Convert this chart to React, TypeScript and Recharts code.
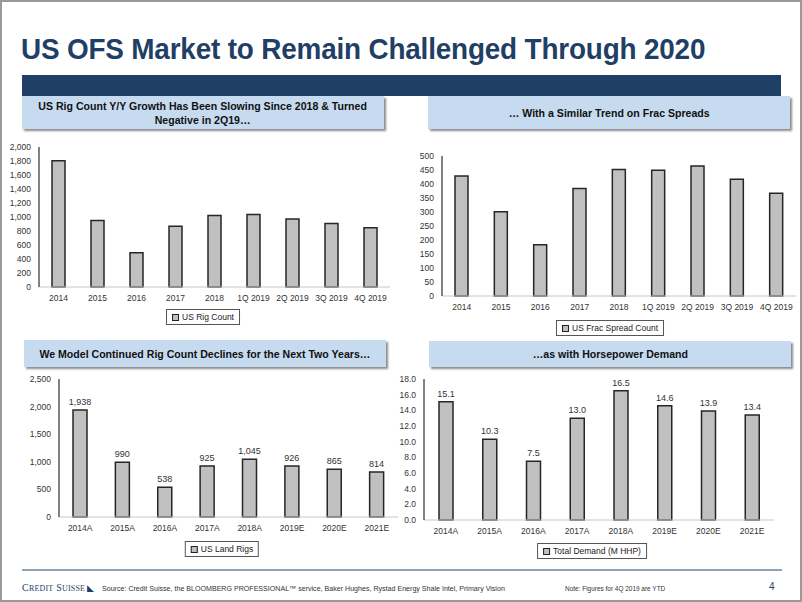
import React from 'react';
import { BarChart, Bar, XAxis, YAxis, Legend, LabelList } from 'recharts';

// top-left: US rig count
const rigCategories = ['2014', '2015', '2016', '2017', '2018', '1Q 2019', '2Q 2019', '3Q 2019', '4Q 2019'];
const rigCounts = [1802, 949, 491, 867, 1022, 1036, 973, 906, 848];
const rigTicks = [0, 200, 400, 600, 800, 1000, 1200, 1400, 1600, 1800, 2000];

// top-right: frac spreads
const fracCategories = ['2014', '2015', '2016', '2017', '2018', '1Q 2019', '2Q 2019', '3Q 2019', '4Q 2019'];
const fracSpreads = [429, 301, 183, 384, 452, 449, 464, 417, 367];
const fracTicks = [0, 50, 100, 150, 200, 250, 300, 350, 400, 450, 500];

// bottom-left: land rigs forecast
const landCategories = ['2014A', '2015A', '2016A', '2017A', '2018A', '2019E', '2020E', '2021E'];
const landRigs = [1938, 990, 538, 925, 1045, 926, 865, 814];
const landTicks = [0, 500, 1000, 1500, 2000, 2500];

// bottom-right: horsepower demand
const hhpCategories = ['2014A', '2015A', '2016A', '2017A', '2018A', '2019E', '2020E', '2021E'];
const hhpDemand = [15.1, 10.3, 7.5, 13.0, 16.5, 14.6, 13.9, 13.4];
const hhpTicks = [0, 2, 4, 6, 8, 10, 12, 14, 16, 18];

const FONT = '"Liberation Sans", Arial, sans-serif';
const NAVY = '#1f3f66';
const BAR_FILL = '#c0c0c0';
const BAR_STROKE = '#262626';

const tickStyle = { fill: '#333', fontSize: 8.5, fontFamily: FONT };

interface PanelProps {
  categories: string[];
  values: number[];
  ticks: number[];
  seriesName: string;
  left: number;
  top: number;
  width: number;
  height: number;
  yWidth: number;
  xHeight: number;
  legendCenter: number;
  barSize: number;
  yFormat: (v: number) => string;
  labelFormat?: (v: number) => string;
}

// the slide uses a condensed face, so squeeze the html text a little
const Narrow: React.FC<{ k: number; origin?: string; children: React.ReactNode }> = ({ k, origin = 'left', children }) => (
  <span style={{ display: 'inline-block', transform: `scaleX(${k})`, transformOrigin: origin }}>{children}</span>
);

const makeLegend = (name: string, center: number) => () => (
  <div style={{ position: 'relative', height: 16 }}>
    <div
      style={{
        position: 'absolute',
        left: center,
        top: 0,
        transform: 'translateX(-50%)',
        height: 16,
        boxSizing: 'border-box',
        border: '1px solid #555',
        background: '#fff',
        display: 'flex',
        alignItems: 'center',
        padding: '0 5px 0 5px',
        whiteSpace: 'nowrap',
        fontFamily: FONT,
        fontSize: 8.5,
        color: '#222',
      }}
    >
      <span
        style={{
          display: 'inline-block',
          width: 5,
          height: 5,
          background: BAR_FILL,
          border: '1.5px solid #222',
          marginRight: 3,
        }}
      />
      {name}
    </div>
  </div>
);

const Panel: React.FC<PanelProps> = (p) => {
  const data = p.categories.map((c, i) => ({ name: c, value: p.values[i] }));
  const top = p.ticks[p.ticks.length - 1];
  return (
    <div style={{ position: 'absolute', left: p.left, top: p.top }}>
      <BarChart
        width={p.width}
        height={p.height}
        data={data}
        margin={{ top: 6, right: 4, left: 0, bottom: 6 }}
        barCategoryGap={0}
      >
        <XAxis
          dataKey="name"
          height={p.xHeight}
          tick={tickStyle}
          tickLine={false}
          axisLine={{ stroke: '#c8c8c8', strokeWidth: 1 }}
          interval={0}
        />
        <YAxis
          width={p.yWidth}
          domain={[0, top]}
          ticks={p.ticks}
          tick={tickStyle}
          tickLine={false}
          axisLine={{ stroke: '#595959', strokeWidth: 1.5 }}
          tickFormatter={(v) => p.yFormat(Number(v))}
          interval={0}
        />
        <Legend
          verticalAlign="bottom"
          wrapperStyle={{ left: 0, width: p.width }}
          content={makeLegend(p.seriesName, p.legendCenter - p.left)}
        />
        <Bar
          dataKey="value"
          name={p.seriesName}
          fill={BAR_FILL}
          stroke={BAR_STROKE}
          strokeWidth={1.5}
          barSize={p.barSize}
          isAnimationActive={false}
        >
          {p.labelFormat && (
            <LabelList
              dataKey="value"
              position="top"
              offset={5}
              formatter={(v: any) => p.labelFormat!(Number(v))}
              style={{ fill: '#333', fontSize: 9, fontFamily: FONT }}
            />
          )}
        </Bar>
      </BarChart>
    </div>
  );
};

const headerBox = (left: number, top: number, width: number, height: number, text: React.ReactNode) => (
  <div
    style={{
      position: 'absolute',
      left,
      top,
      width,
      height,
      background: '#c6daf0',
      boxShadow: '2px 2px 2px #8c8c8c',
      display: 'flex',
      alignItems: 'center',
      justifyContent: 'center',
      textAlign: 'center',
      fontFamily: FONT,
      fontWeight: 'bold',
      fontSize: 11.5,
      lineHeight: '14px',
      color: '#111',
      whiteSpace: 'nowrap',
    }}
  >
    <Narrow k={0.92} origin="center">{text}</Narrow>
  </div>
);

const commaFmt = (v: number) => v.toLocaleString('en-US');

export default function App() {
  return (
    <div
      style={{
        position: 'absolute',
        left: 0,
        top: 0,
        width: 802,
        height: 602,
        boxSizing: 'border-box',
        border: '2px solid #9a9a9a',
        background: '#fff',
        overflow: 'hidden',
        fontFamily: FONT,
      }}
    >
      <div
        style={{
          position: 'absolute',
          left: 19,
          top: 30,
          fontSize: 30,
          fontWeight: 'bold',
          color: NAVY,
          whiteSpace: 'nowrap',
          letterSpacing: -0.2,
        }}
      >
        <Narrow k={0.93}>US OFS Market to Remain Challenged Through 2020</Narrow>
      </div>
      <div style={{ position: 'absolute', left: 20, top: 73, width: 759, height: 21, background: NAVY }} />

      {headerBox(20, 94, 362, 33, (
        <>
          US Rig Count Y/Y Growth Has Been Slowing Since 2018 &amp; Turned
          <br />
          Negative in 2Q19…
        </>
      ))}
      {headerBox(426, 94, 362, 33, '… With a Similar Trend on Frac Spreads')}
      {headerBox(22, 338, 362, 27, 'We Model Continued Rig Count Declines for the Next Two Years…')}
      {headerBox(427, 339, 362, 26, '…as with Horsepower Demand')}

      <Panel
        categories={rigCategories}
        values={rigCounts}
        ticks={rigTicks}
        seriesName="US Rig Count"
        left={0}
        top={139}
        width={392}
        height={190}
        yWidth={37}
        xHeight={22}
        legendCenter={201}
        barSize={13}
        yFormat={commaFmt}
      />
      <Panel
        categories={fracCategories}
        values={fracSpreads}
        ticks={fracTicks}
        seriesName="US Frac Spread Count"
        left={400}
        top={148}
        width={398}
        height={192}
        yWidth={40}
        xHeight={24}
        legendCenter={608}
        barSize={13}
        yFormat={(v) => String(v)}
      />
      <Panel
        categories={landCategories}
        values={landRigs}
        ticks={landTicks}
        seriesName="US Land Rigs"
        left={0}
        top={371}
        width={400}
        height={190}
        yWidth={57}
        xHeight={24}
        legendCenter={220}
        barSize={14}
        yFormat={commaFmt}
        labelFormat={commaFmt}
      />
      <Panel
        categories={hhpCategories}
        values={hhpDemand}
        ticks={hhpTicks}
        seriesName="Total Demand (M HHP)"
        left={380}
        top={371}
        width={396}
        height={192}
        yWidth={42}
        xHeight={23}
        legendCenter={590}
        barSize={14}
        yFormat={(v) => v.toFixed(1)}
        labelFormat={(v) => v.toFixed(1)}
      />

      <div style={{ position: 'absolute', left: 20, top: 567, width: 760, height: 2, background: '#8fa2b8' }} />
      <div
        style={{
          position: 'absolute',
          left: 20,
          top: 580,
          fontFamily: '"Liberation Serif", serif',
          fontSize: 10,
          color: NAVY,
          letterSpacing: 0.2,
          whiteSpace: 'nowrap',
        }}
      >
        C<span style={{ fontSize: 8 }}>REDIT</span> S<span style={{ fontSize: 8 }}>UISSE</span>
        <span style={{ fontSize: 9, marginLeft: 2, color: NAVY }}>◣</span>
      </div>
      <div style={{ position: 'absolute', left: 100, top: 582, fontSize: 7.5, color: '#333', whiteSpace: 'nowrap' }}>
        <Narrow k={0.945}>
          Source: Credit Suisse, the BLOOMBERG PROFESSIONAL™ service, Baker Hughes, Rystad Energy Shale Intel, Primary Vision
        </Narrow>
      </div>
      <div style={{ position: 'absolute', left: 563, top: 582, fontSize: 7.5, color: '#333', whiteSpace: 'nowrap' }}>
        <Narrow k={0.86}>Note: Figures for 4Q 2019 are YTD</Narrow>
      </div>
      <div style={{ position: 'absolute', left: 767, top: 579, fontSize: 10, color: NAVY }}>4</div>
    </div>
  );
}
